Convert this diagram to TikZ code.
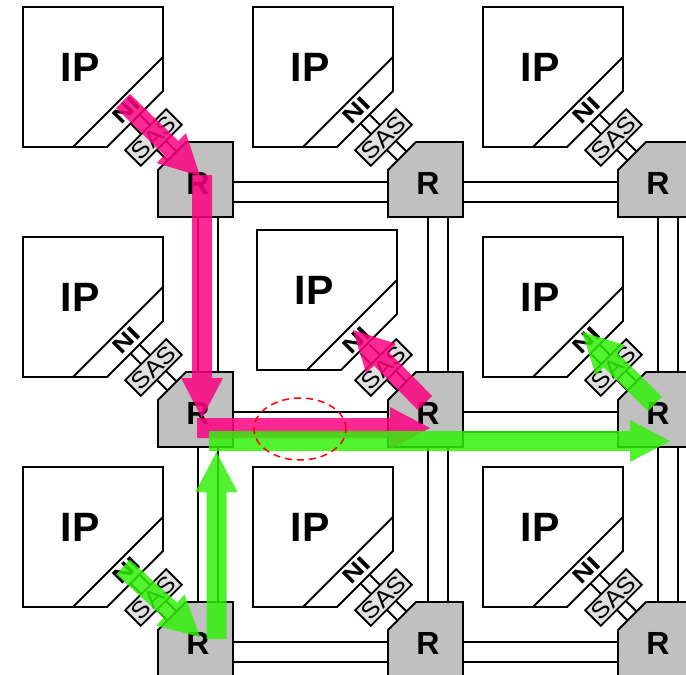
\documentclass[tikz,border=0pt]{standalone}
\usepackage{graphicx}
\usepackage{fontspec}
\newfontfamily\arial{Liberation Sans}
\usetikzlibrary{shapes.geometric}
\definecolor{routergray}{RGB}{192,192,192}
\definecolor{sasgray}{RGB}{224,224,224}
\definecolor{pinkc}{RGB}{255,0,128}
\definecolor{greenc}{RGB}{50,240,10}
\newcommand\fatarrow[5]{%
  \pgfmathsetmacro\faang{atan2((#3)-(#5),(#4)-(#2))}%
  \pgfmathsetmacro\falen{veclen((#4)-(#2),(#5)-(#3))}%
  \begin{scope}[shift={(#2,-#3)}, rotate=\faang]
    \fill[#1, fill opacity=0.84] (0,-10) -- ({\falen-40},-10) -- ({\falen-40},-21) -- (\falen,0) -- ({\falen-40},21) -- ({\falen-40},10) -- (0,10) -- cycle;
  \end{scope}}
\tikzset{
  outline/.style={draw=black, line width=1.8pt, line join=miter},
  ipbox/.style={outline, fill=white},
  routerbox/.style={outline, fill=routergray},
  link/.style={draw=black, line width=1.8pt},
  iptext/.style={font=\arial\bfseries\fontsize{41}{41}\selectfont, inner sep=0pt},
  rtext/.style={font=\arial\bfseries\fontsize{32}{32}\selectfont, inner sep=0pt},
  nitext/.style={font=\arial\bfseries\fontsize{22}{22}\selectfont, inner sep=0pt, rotate=45},
  sasbox/.style={outline, fill=sasgray, rotate=45, minimum width=58pt, minimum height=22pt, inner sep=0pt, font=\arial\fontsize{23}{23}\selectfont},
  hotspot/.style={ellipse, draw=red, dash pattern=on 7pt off 5pt, line width=1.5pt, minimum width=92pt, minimum height=62pt, inner sep=0pt}
}
\begin{document}
\begin{tikzpicture}[x=1pt,y=1pt]
\useasboundingbox (0,0) rectangle (686,-675);
\clip (0,0) rectangle (686,-675);
\fill[white] (0,0) rectangle (686,-675);
% links
\foreach \c in {0,1,2}{
  \foreach \r in {0,1,2}{
    \pgfmathsetmacro\ox{23+230*\c}
    \pgfmathsetmacro\oy{7+230*\r}
    \begin{scope}[shift={(\ox,-\oy)}]
      \ifnum\c<2
        \draw[link] (210,-175) -- (365,-175);
        \draw[link] (210,-195) -- (365,-195);
      \fi
      \ifnum\r<2
        \draw[link] (175,-210) -- (175,-365);
        \draw[link] (195,-210) -- (195,-365);
      \fi
    \end{scope}
  }
}
% tiles
\foreach \c in {0,1,2}{
  \foreach \r in {0,1,2}{
    \pgfmathsetmacro\ox{23+230*\c}
    \pgfmathsetmacro\oy{7+230*\r}
    \pgfmathsetmacro\dx{ifthenelse(and(\c==1,\r==1),4,0)}
    \pgfmathsetmacro\dy{ifthenelse(and(\c==1,\r==1),-7,0)}
    \begin{scope}[shift={(\ox,-\oy)}]
      % router
      \draw[routerbox] (163,-135) -- (210,-135) -- (210,-210) -- (135,-210) -- (135,-163) -- cycle;
      \node[rtext] (r-\c-\r) at (175,-176) {R};
      % IP block
      \begin{scope}[shift={(\dx,-\dy)}]
        \draw[ipbox] (0,0) -- (140,0) -- (140,-84) -- (84,-140) -- (0,-140) -- cycle;
        \draw[outline] (140,-50) -- (50,-140);
        \node[iptext] (ip-\c-\r) at (57,-60) {IP};
      \end{scope}
      % link between NI and router
      \draw[outline] (116.5,-107.5) -- (153.5,-144.5);
      \draw[outline] (107.5,-116.5) -- (144.5,-153.5);
      \node[sasbox] (sas-\c-\r) at (130.5,-130.5) {\scalebox{1.12}[1]{SAS}};
      \node[nitext] (ni-\c-\r) at (103.5,-103.5) {\scalebox{1.3}[1]{NI}};
    \end{scope}
  }
}
% traffic arrows
\fatarrow{pinkc}{123}{101}{200}{176}
\fatarrow{pinkc}{202}{175}{202}{418}
\fatarrow{pinkc}{197}{428}{430}{428}
\fatarrow{pinkc}{425}{403}{353}{330}
\fatarrow{greenc}{123}{567}{200}{637}
\fatarrow{greenc}{216.5}{639}{216.5}{452}
\fatarrow{greenc}{209}{441}{670}{441}
\fatarrow{greenc}{655}{404}{582}{332}
% contention point
\node[hotspot] (hot) at (300,-429) {};
\end{tikzpicture}
\end{document}
